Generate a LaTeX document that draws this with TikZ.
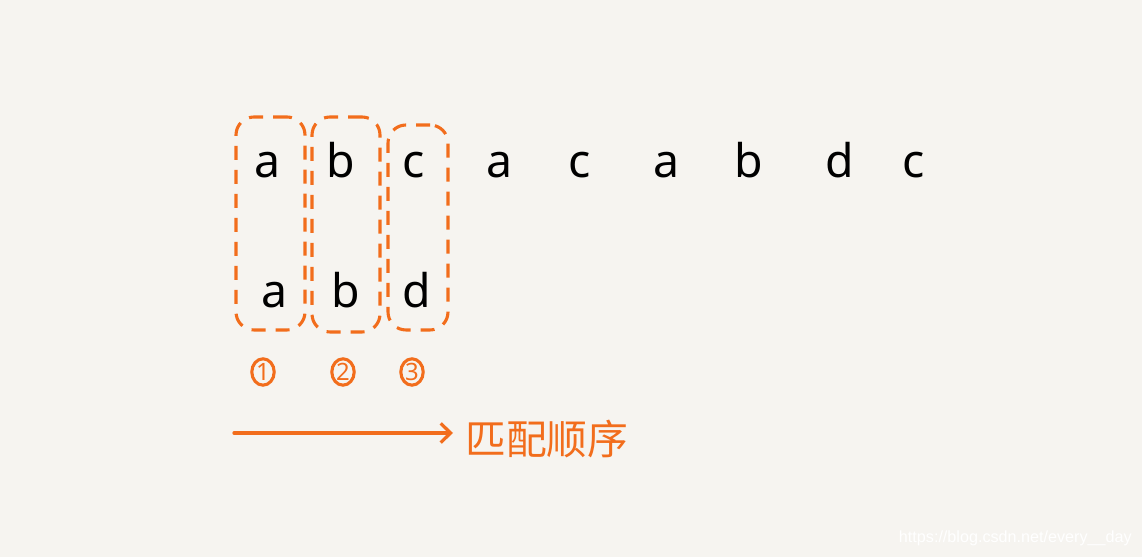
\documentclass[tikz,border=0pt]{standalone}
\usepackage{fontspec}
\setmainfont{Noto Sans}
\newfontfamily\cjk{Noto Sans CJK SC}
\newfontfamily\markfont{Liberation Sans}
\usetikzlibrary{arrows.meta,positioning,shapes.geometric}

\definecolor{paper}{HTML}{F6F4F0}
\definecolor{pen}{HTML}{F26D1C}

\begin{document}
\begin{tikzpicture}
  [letter/.style={text=black,inner sep=0pt,anchor=base,font=\fontsize{33}{33}\selectfont},
   group/.style={rectangle,draw=pen,line width=2.2pt,rounded corners=0.45cm,
                 dash pattern=on 0.35cm off 0.25cm,minimum width=#1},
   group/.default=1.7cm,
   step number/.style={ellipse,draw=pen,text=pen,line width=2.2pt,inner sep=0pt,
                       minimum width=0.56cm,minimum height=0.66cm,
                       font=\fontsize{17}{17}\selectfont},
   flow/.style={draw=pen,line width=2.3pt,line cap=round,
                -{Straight Barb[length=0.25cm,width=0.48cm,line width=2.3pt]}}]
  % background and size
  \fill[paper] (0,0) rectangle (28.55,13.925);
  \useasboundingbox (0,0) rectangle (28.55,13.925);

  % main string
  \node (s1) at ( 6.700,9.475) [letter] {a};
  \node (s2) at ( 8.525,9.475) [letter] {b};
  \node (s3) at (10.350,9.475) [letter] {c};
  \node (s4) at (12.500,9.475) [letter] {a};
  \node (s5) at (14.500,9.475) [letter] {c};
  \node (s6) at (16.675,9.475) [letter] {a};
  \node (s7) at (18.725,9.475) [letter] {b};
  \node (s8) at (21.000,9.475) [letter] {d};
  \node (s9) at (22.850,9.475) [letter] {c};

  % pattern
  \node (p1) at ( 6.875,6.225) [letter] {a};
  \node (p2) at ( 8.650,6.225) [letter] {b};
  \node (p3) at (10.425,6.225) [letter] {d};

  % compared columns
  \node (g1) at ( 6.7625,8.3375) [group=1.725cm,minimum height=5.325cm] {};
  \node (g2) at ( 8.6500,8.3125) [group=1.7cm,minimum height=5.375cm] {};
  \node (g3) at (10.4500,8.2375) [group=1.5cm,minimum height=5.125cm] {};

  % order of matching
  \node (n1) at ( 6.575,4.625) [step number] {1};
  \node (n2) at ( 8.575,4.625) [step number] {2};
  \node (n3) at (10.300,4.625) [step number] {3};

  \node (order) at (11.625,2.95) [anchor=west,inner sep=0pt,text=pen,
        font=\cjk\fontsize{29}{29}\selectfont] {匹配顺序};
  \coordinate (start) at (5.85,3.1);
  \draw[flow] (start) -- (order.west |- start) [shorten >=0.3cm];

  \node (mark) at (28.3,0.475) [anchor=east,inner sep=0pt,text=white,
        font=\markfont\fontsize{11.5}{11.5}\selectfont] {https://blog.csdn.net/every\_\_day};
\end{tikzpicture}
\end{document}
